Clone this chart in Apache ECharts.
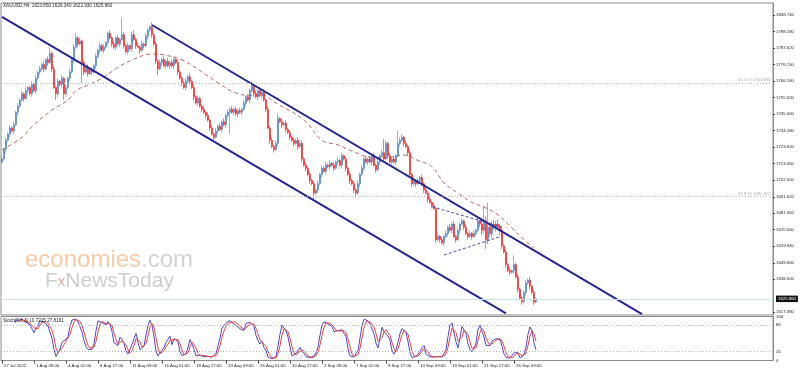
<!DOCTYPE html>
<html><head><meta charset="utf-8">
<script src="https://cdn.jsdelivr.net/npm/echarts@6/dist/echarts.min.js"></script>
<style>html,body{margin:0;padding:0;background:#fff}#c{width:800px;height:372px}</style>
</head><body><div id="c"></div>
<script>
// ---- data ----
const timeLabels = ["27 Jul 2022","1 Aug 09:00","4 Aug 01:00","8 Aug 17:00","11 Aug 09:00","16 Aug 01:00","18 Aug 17:00","23 Aug 09:00","26 Aug 01:00","30 Aug 17:00","2 Sep 09:00","7 Sep 01:00","9 Sep 17:00","14 Sep 09:00","19 Sep 01:00","21 Sep 17:00","26 Sep 09:00"];
const priceTicks = [1808.74,1798.18,1787.62,1776.74,1766.18,1755.62,1745.06,1734.18,1723.62,1713.06,1702.50,1691.62,1681.06,1670.50,1659.94,1649.06,1638.50,1617.38];
const stochTicks = [0,20,80,100];
const stochLevels = [20,80];
const firstOpen = 1714;
const closes = [
1716,1722,1728,1732,1736,1734,1738,1746,1750,1754,
1758,1755,1760,1762,1758,1764,1760,1768,1772,1774,
1777,1774,1780,1778,1784,1774,1762,1758,1766,1764,
1768,1758,1762,1768,1772,1780,1788,1794,1790,1792,
1778,1772,1775,1771,1773,1772,1776,1782,1786,1789,
1786,1788,1791,1797,1794,1790,1788,1794,1790,1793,
1796,1789,1785,1789,1787,1796,1793,1789,1788,1786,
1790,1789,1795,1799,1801,1796,1790,1779,1774,1778,
1780,1776,1779,1776,1778,1776,1780,1778,1772,1768,
1765,1762,1766,1769,1766,1762,1756,1752,1755,1750,
1748,1746,1744,1741,1736,1732,1730,1734,1737,1735,
1740,1738,1744,1746,1748,1746,1748,1745,1747,1746,
1748,1752,1756,1754,1760,1763,1758,1756,1760,1757,
1759,1754,1748,1736,1728,1724,1722,1726,1742,1740,
1738,1739,1735,1733,1730,1728,1726,1728,1724,1726,
1716,1712,1710,1706,1702,1700,1694,1696,1700,1706,
1710,1708,1712,1711,1713,1712,1710,1714,1715,1712,
1718,1716,1710,1706,1702,1700,1696,1694,1700,1706,
1710,1716,1714,1716,1714,1718,1712,1709,1714,1718,
1720,1716,1726,1718,1714,1716,1714,1718,1726,1728,
1730,1726,1724,1720,1706,1700,1702,1700,1702,1704,
1700,1696,1694,1690,1688,1686,1684,1664,1666,1664,
1662,1666,1668,1672,1670,1674,1666,1664,1670,1674,
1676,1672,1668,1666,1668,1666,1668,1670,1676,1674,
1670,1676,1664,1672,1668,1674,1672,1674,1672,1670,
1660,1656,1648,1644,1643,1644,1648,1640,1632,1626,
1624,1630,1636,1638,1634,1630,1623.85,1625.86];
const wickUp = [
2,1,2,1,2,1,2,1,2,1, 2,1,2,1,1,2,1,2,1,2, 1,2,1,2,4,1,2,1,2,1, 2,1,2,1,2,1,2,3,1,2,
1,2,1,2,1,2,1,2,1,2, 1,2,1,1,2,1,2,1,2,1, 11,2,1,2,1,2,3,1,2,1, 2,1,2,1,1,3,1,2,1,2,
1,2,1,2,1,2,2,1,2,1, 2,1,2,1,2,1,2,1,2,1, 1,2,1,2,1,2,1,2,1,2, 1,2,1,2,1,2,1,2,1,2,
1,2,1,2,1,3,1,2,1,2, 1,2,1,2,1,2,1,2,3,1, 2,1,2,1,2,1,2,1,2,1, 2,1,2,1,2,1,2,1,2,1,
2,1,2,1,2,1,2,1,2,1, 2,1,2,1,2,1,2,1,2,1, 2,1,2,1,2,1,2,1,2,1, 2,9,2,1,2,1,2,1,8,2,
2,1,2,1,2,1,2,1,2,1, 2,1,2,1,2,1,2,1,2,1, 2,1,2,1,2,1,2,1,2,1, 2,1,2,1,2,1,2,1,2,1,
3,10,3,16,3,2,3,2,3,2, 2,1,2,1,2,1,6,1,2,1, 2,1,2,1,2,1,2,0.48];
const wickDn = [
1,1,2,1,2,1,2,1,2,1, 1,2,1,2,1,2,1,2,1,2, 1,2,1,2,1,2,1,4,2,1, 2,4,2,1,2,1,2,1,2,1,
13,2,1,2,1,2,1,2,1,2, 1,2,1,2,1,2,1,2,1,2, 1,2,1,2,1,2,1,2,1,2, 1,2,1,2,1,2,1,2,4,1,
2,1,2,1,2,1,2,1,2,1, 2,1,2,1,2,1,2,1,2,1, 2,1,2,1,2,1,2,1,2,1, 2,1,2,1,14,1,2,1,2,1,
2,1,2,1,2,1,2,1,2,1, 2,1,2,1,2,1,2,1,2,1, 2,1,2,1,2,1,2,1,2,1, 2,1,2,1,2,1,4,1,2,1,
2,1,2,1,2,1,2,1,2,1, 2,1,2,1,2,1,2,3,1,2, 1,2,1,2,1,2,1,2,1,2, 1,2,1,2,1,2,1,2,1,2,
1,2,1,2,1,2,1,2,1,2, 1,2,1,2,1,2,1,2,1,2, 1,2,1,2,1,2,1,2,1,2, 1,2,1,2,1,2,1,2,1,2,
3,2,6,3,2,3,2,3,2,3, 2,1,2,1,2,1,2,1,2,1, 2,1,2,1,2,1,2,0.92];
const maPoints = [[0,1721.8],[10,1730],[16,1738],[25,1747.5],[33,1754],[37,1760],[43,1763.6],[50,1768],[58,1775],[66,1780.4],[75,1783.6],[81,1783],[90,1779.8],[100,1772],[108,1765],[116,1759],[123,1757],[130,1757],[137,1752],[151,1741],[160,1728],[168,1725],[176,1720.5],[185,1717],[193,1717],[201,1718.5],[208,1715],[215,1711],[221,1700.5],[228,1694],[235,1688],[241,1685],[248,1680],[255,1671.5],[261,1664],[266,1658.6]];
const channelLower = [[0,1807.6],[252,1616.5]];
const channelUpper = [[75,1802.3],[320,1616.0]];
const triUpper = [[215,1685.2],[250,1672.2]];
const triLower = [[221,1654.1],[250,1666.3]];
const fibLevels = [["50.0",1764.985],["61.8",1691.852]];
const lastPrice = 1625.86;
const headerText = "XAUUSD,H4  1623.850 1626.340 1622.930 1625.860";
const stochText = "Stoch(5,3,3) 10.7215 27.8161";
const slots = 386;

// ---- build ----
const N = closes.length;
const opens = closes.map((c,i)=> i===0 ? firstOpen : closes[i-1]);
const highs = closes.map((c,i)=> Math.max(opens[i],c)+wickUp[i]);
const lows  = closes.map((c,i)=> Math.min(opens[i],c)-wickDn[i]);
const UP='#4a80bd', DOWN='#f41c1c';
const candles = closes.map((c,i)=>({value:[opens[i],c,lows[i],highs[i]],
  itemStyle:{color: c>=opens[i]?UP:DOWN, color0: c>=opens[i]?UP:DOWN, borderColor: c>=opens[i]?UP:DOWN, borderColor0: c>=opens[i]?UP:DOWN}}));
const cats = Array.from({length:slots},(_,i)=>String(i));

// Stochastic(5,3,3) computed from the price arrays
const K=5, SL=3, D=3;
const mainLine = new Array(N).fill(null), sigLine = new Array(N).fill(null);
const ll = [], hh = [];
for (let i=0;i<N;i++){
  if (i<K-1){ll.push(null);hh.push(null);continue;}
  let l=Infinity,h=-Infinity;
  for(let j=i-K+1;j<=i;j++){l=Math.min(l,lows[j]);h=Math.max(h,highs[j]);}
  ll.push(l);hh.push(h);
}
for (let i=K-1+SL-1;i<N;i++){
  let num=0,den=0;
  for(let j=i-SL+1;j<=i;j++){num+=closes[j]-ll[j];den+=hh[j]-ll[j];}
  mainLine[i]= den===0?100:100*num/den;
}
for (let i=K-1+SL-1+D-1;i<N;i++){
  let s=0; for(let j=i-D+1;j<=i;j++) s+=mainLine[j];
  sigLine[i]=s/D;
}

const F = '"Liberation Sans", Arial, sans-serif';
const chart = echarts.init(document.getElementById('c'), null, {renderer:'canvas'});
const gridBorder = '#8c8c8c';
chart.setOption({
  animation:false,
  backgroundColor:'#ffffff',
  grid:[
    {left:1, top:3, width:772, height:312, show:true, borderColor:gridBorder, borderWidth:1},
    {left:1, top:316.5, width:772, height:44, show:true, borderColor:gridBorder, borderWidth:1}
  ],
  xAxis:[
    {type:'category', gridIndex:0, data:cats, boundaryGap:true, axisLine:{show:false}, axisTick:{show:false}, axisLabel:{show:false}, splitLine:{show:false}},
    {type:'category', gridIndex:1, data:cats, boundaryGap:true, axisLine:{show:true, lineStyle:{color:gridBorder}},
      axisTick:{show:true, alignWithLabel:true, length:3, interval:(idx)=> idx%16===0 && idx/16 < timeLabels.length, lineStyle:{color:'#444'}},
      axisLabel:{show:true, interval:(idx)=> idx%16===0 && idx/16 < timeLabels.length, formatter:(v,idx)=> timeLabels[idx/16]||'', align:'left', padding:[0,0,0,2], margin:3, fontSize:4.3, color:'#222', fontFamily:F},
      splitLine:{show:false}}
  ],
  yAxis:[
    {type:'value', gridIndex:0, position:'right', min:1615.44, max:1816.47, scale:true,
      axisLine:{show:true, lineStyle:{color:gridBorder}},
      axisTick:{show:true, customValues:priceTicks, length:2, lineStyle:{color:'#444'}},
      axisLabel:{show:true, customValues:priceTicks, formatter:v=>Number(v).toFixed(3), fontSize:4.3, color:'#222', margin:3, fontFamily:F},
      splitLine:{show:false}},
    {type:'value', gridIndex:1, position:'right', min:0, max:100,
      axisLine:{show:true, lineStyle:{color:gridBorder}},
      axisTick:{show:false},
      axisLabel:{show:true, customValues:stochTicks, fontSize:4.3, color:'#222', margin:3, fontFamily:F},
      splitLine:{show:false}}
  ],
  series:[
    {type:'line', xAxisIndex:0, yAxisIndex:0, data:maPoints, smooth:0.4, symbol:'none', silent:true,
      lineStyle:{color:'#b86a62', width:1, type:[4,3]}, z:2},
    {type:'candlestick', xAxisIndex:0, yAxisIndex:0, data:candles, barWidth:1.6, z:3,
      itemStyle:{color:UP, color0:DOWN, borderColor:UP, borderColor0:DOWN, borderWidth:0.6},
      markLine:{symbol:'none', silent:true, animation:false,
        data:[
          ...fibLevels.map(f=>({yAxis:f[1], lineStyle:{color:'#b5b5b5', type:[1,2], width:1},
             label:{show:true, position:'insideEndTop', formatter:f[0]+' @ '+f[1].toFixed(3), fontSize:4.3, color:'#a8a8a8', fontFamily:F, distance:[2,1]}})),
          {yAxis:lastPrice, lineStyle:{color:'#c6e4ec', type:'solid', width:1},
             label:{show:true, position:'end', formatter:lastPrice.toFixed(3), backgroundColor:'#111', color:'#fff', padding:[1.5,2,1,2], fontSize:4.3, fontFamily:F, distance:3}}
        ]}},
    {type:'line', xAxisIndex:0, yAxisIndex:0, data:channelLower, symbol:'none', silent:true, lineStyle:{color:'#25258f', width:2}, z:4},
    {type:'line', xAxisIndex:0, yAxisIndex:0, data:channelUpper, symbol:'none', silent:true, lineStyle:{color:'#25258f', width:2}, z:4},
    {type:'line', xAxisIndex:0, yAxisIndex:0, data:triUpper, symbol:'none', silent:true, lineStyle:{color:'#4a4aa8', width:1, type:[3,2]}, z:4},
    {type:'line', xAxisIndex:0, yAxisIndex:0, data:triLower, symbol:'none', silent:true, lineStyle:{color:'#4a4aa8', width:1, type:[3,2]}, z:4},
    {type:'line', xAxisIndex:1, yAxisIndex:1, data:mainLine, symbol:'none', silent:true, lineStyle:{color:'#4848d0', width:1},
      markLine:{symbol:'none', silent:true, animation:false, label:{show:false},
        data:stochLevels.map(v=>({yAxis:v, lineStyle:{color:'#b0b0b0', type:[1,2], width:1}}))}},
    {type:'line', xAxisIndex:1, yAxisIndex:1, data:sigLine, symbol:'none', silent:true, lineStyle:{color:'#f43c3c', width:1}}
  ],
  graphic:[
    {type:'text', left:3, top:3, z:10, style:{text:headerText, fontSize:4.6, fontFamily:F, fill:'#222'}},
    {type:'text', left:3, top:318, z:10, style:{text:stochText, fontSize:4.6, fontFamily:F, fill:'#222'}},
    {type:'text', x:25, y:248, z:1, silent:true, style:{text:'{a|economies}{b|.com}', rich:{a:{fontSize:24, fontFamily:F, fill:'#f8c9a6'}, b:{fontSize:24, fontFamily:F, fill:'#d2d2d2'}}}},
    {type:'text', x:45, y:271, z:1, silent:true, style:{text:'{a|F}{x|x}{a|NewsToday}', rich:{a:{fontSize:21, fontFamily:F, fill:'#cdcdcd'}, x:{fontSize:15, fontFamily:F, fill:'#d9a8a8'}}}}
  ]
});
</script></body></html>
